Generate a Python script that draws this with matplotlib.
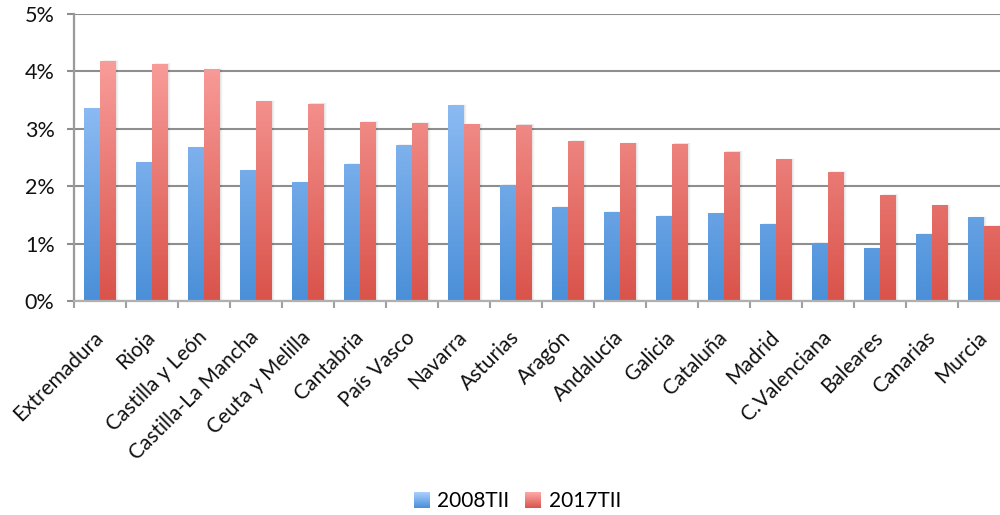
import numpy as np
import matplotlib
matplotlib.use("Agg")
import matplotlib.pyplot as plt
from matplotlib.colors import LinearSegmentedColormap
from matplotlib.patches import Rectangle
from matplotlib.legend_handler import HandlerBase
from matplotlib.image import BboxImage
from matplotlib.transforms import Bbox, TransformedBbox, offset_copy
from matplotlib.ticker import FixedLocator, FuncFormatter

plt.rcParams['font.family'] = ['Lato', 'DejaVu Sans']

regions = ["Extremadura", "Rioja", "Castilla y León", "Castilla-La Mancha",
           "Ceuta y Melilla", "Cantabria", "País Vasco", "Navarra", "Asturias",
           "Aragón", "Andalucía", "Galicia", "Cataluña", "Madrid",
           "C.Valenciana", "Baleares", "Canarias", "Murcia"]
rate_2008 = [3.36, 2.42, 2.68, 2.28, 2.07, 2.39, 2.72, 3.41, 2.02,
             1.64, 1.55, 1.48, 1.53, 1.34, 1.01, 0.92, 1.17, 1.46]
rate_2017 = [4.18, 4.13, 4.04, 3.48, 3.44, 3.12, 3.10, 3.08, 3.07,
             2.79, 2.75, 2.74, 2.60, 2.47, 2.25, 1.85, 1.67, 1.31]
series_names = ["2008TII", "2017TII"]

blue_cmap = LinearSegmentedColormap.from_list("blue_grad", ["#4a8fd8", "#abcfff"])
red_cmap = LinearSegmentedColormap.from_list("red_grad", ["#d9534a", "#ffabaa"])
grad = np.linspace(0, 1, 256).reshape(-1, 1)

fig = plt.figure(figsize=(10, 5.15), dpi=100)
ax = fig.add_axes([0.074, 0.4155, 0.936, 0.5573])

x = np.arange(len(regions))
w = 0.3


def gradient_bars(xpos, vals, cmap):
    # faint soft shadow on the right side of each bar
    for k, a in zip((1, 2, 3), (0.05, 0.035, 0.02)):
        tr = offset_copy(ax.transData, fig=fig, x=k, y=0.3 * k, units='dots')
        ax.bar(xpos, vals, w, color='black', alpha=a, transform=tr,
               zorder=2, linewidth=0)
    bars = ax.bar(xpos, vals, w, color='none', linewidth=0, zorder=3)
    for b in bars:
        x0 = b.get_x()
        im = ax.imshow(grad, cmap=cmap, origin='lower', aspect='auto',
                       extent=[x0, x0 + b.get_width(), 0, 5.0],
                       zorder=3, interpolation='bilinear')
        im.set_clip_path(b)
    return bars


gradient_bars(x - w / 2, rate_2008, blue_cmap)
gradient_bars(x + w / 2, rate_2017, red_cmap)

ax.set_xlim(-0.5, len(regions) - 0.5)
ax.set_ylim(0, 5)

ax.yaxis.set_major_locator(FixedLocator([0, 1, 2, 3, 4, 5]))
ax.yaxis.set_major_formatter(FuncFormatter(lambda v, p: f"{v:.0f}%"))
ax.grid(axis='y', color='#8e8e8e', linewidth=1.5, zorder=1)
ax.set_axisbelow(True)

ax.set_xticks(x)
ax.set_xticklabels(regions, rotation=45, ha='right', va='center',
                   rotation_mode='anchor')
ax.xaxis.set_minor_locator(FixedLocator(np.arange(-0.5, len(regions), 1.0)))
ax.tick_params(axis='x', which='major', length=0, pad=24, labelsize=15,
               labelcolor='#111111')
ax.tick_params(axis='x', which='minor', length=5, width=1.5, color='#a0a0a0')
ax.tick_params(axis='y', length=5, width=1.5, color='#8e8e8e', pad=9,
               labelsize=15.5, labelcolor='#111111')

for side in ('top', 'right'):
    ax.spines[side].set_visible(False)
ax.spines['left'].set_color('#9a9a9a')
ax.spines['left'].set_linewidth(1.6)
ax.spines['bottom'].set_color('#b0b0b0')
ax.spines['bottom'].set_linewidth(1.6)
ax.spines['bottom'].set_zorder(4)


class GradientSquare(HandlerBase):
    def __init__(self, cmap):
        super().__init__()
        self.cmap = cmap

    def create_artists(self, legend, orig_handle, xdescent, ydescent,
                       width, height, fontsize, trans):
        side = min(width, height)
        x0 = -xdescent + (width - side)
        y0 = -ydescent + (height - side) / 2
        bb = TransformedBbox(Bbox.from_bounds(x0, y0, side, side), trans)
        img = BboxImage(bb, cmap=self.cmap, interpolation='bilinear',
                        origin='lower')
        img.set_data(grad)
        return [img]


h1 = Rectangle((0, 0), 1, 1)
h2 = Rectangle((0, 0), 1, 1)
fig.legend([h1, h2], series_names, loc='center', bbox_to_anchor=(0.517, 0.027),
           ncol=2, frameon=False, fontsize=15, handlelength=0.8,
           handleheight=0.8, handletextpad=0.35, columnspacing=0.75,
           handler_map={h1: GradientSquare(blue_cmap), h2: GradientSquare(red_cmap)})

fig.savefig("out.png", dpi=100)
